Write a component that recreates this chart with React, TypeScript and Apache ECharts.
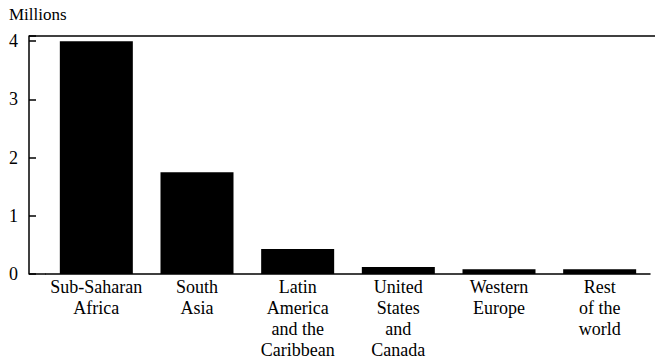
import React, { useEffect, useRef } from "react";
import * as echarts from "echarts";

const categories = [
  "Sub-Saharan\nAfrica",
  "South\nAsia",
  "Latin\nAmerica\nand the\nCaribbean",
  "United\nStates\nand\nCanada",
  "Western\nEurope",
  "Rest\nof the\nworld",
];
const values = [4.0, 1.75, 0.43, 0.12, 0.08, 0.08];
const yTicks = [0, 1, 2, 3, 4];
const unitLabel = "Millions";

const FONT = "Liberation Serif";

export default function App() {
  const ref = useRef<HTMLDivElement>(null);
  useEffect(() => {
    if (!ref.current) return;
    const chart = echarts.init(ref.current, null, { renderer: "svg" });
    chart.setOption({
      animation: false,
      backgroundColor: "#fff",
      textStyle: { fontFamily: FONT },
      grid: { left: 46, right: 6, top: 36, bottom: 90 },
      xAxis: {
        type: "category",
        data: categories,
        axisLine: { show: true, lineStyle: { color: "#000", width: 1.5 } },
        axisTick: { show: false },
        axisLabel: {
          color: "#000",
          fontFamily: FONT,
          fontSize: 18,
          lineHeight: 21,
          margin: 2,
          interval: 0,
          align: "center",
        },
      },
      yAxis: {
        type: "value",
        min: 0,
        max: 4.09,
        interval: 1,
        offset: 17,
        axisLine: { show: true, lineStyle: { color: "#000", width: 1.5 } },
        axisTick: { show: true, inside: true, length: 7, lineStyle: { color: "#000", width: 1.5 } },
        splitLine: { show: false },
        axisLabel: {
          color: "#000",
          fontFamily: FONT,
          fontSize: 18,
          margin: 11,
          formatter: (v: number) => (yTicks.includes(v) ? String(v) : ""),
        },
      },
      graphic: [
        {
          type: "text",
          left: 9,
          top: 6,
          style: { text: unitLabel, fill: "#000", fontFamily: FONT, fontSize: 17 },
        },
        {
          type: "line",
          shape: { x1: 29, y1: 36, x2: 655, y2: 36 },
          style: { stroke: "#000", lineWidth: 1.5 },
        },
        {
          type: "line",
          shape: { x1: 29, y1: 274, x2: 46, y2: 274 },
          style: { stroke: "#000", lineWidth: 1.5 },
        },
      ],
      series: [
        {
          type: "bar",
          data: values,
          barWidth: 73,
          itemStyle: { color: "#000" },
        },
      ],
    });
    return () => chart.dispose();
  }, []);
  return (
    <div
      ref={ref}
      style={{ width: 656, height: 364, position: "absolute", left: 0, top: 0 }}
    />
  );
}
